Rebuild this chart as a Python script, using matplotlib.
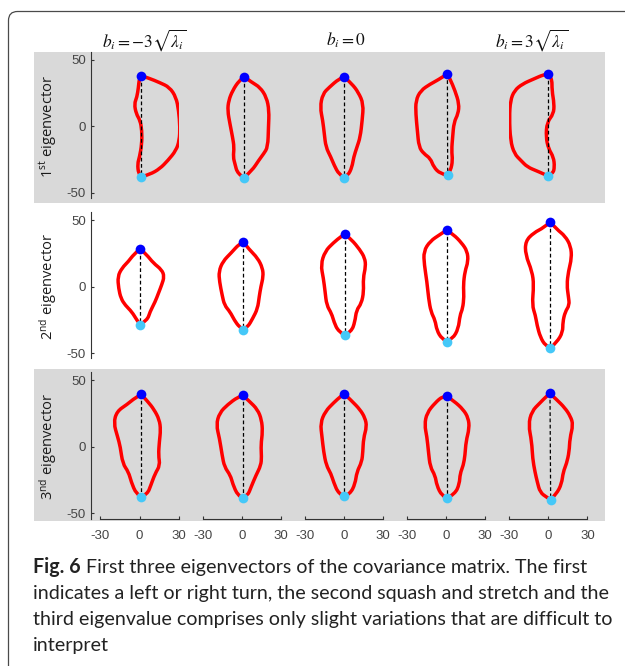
import matplotlib
matplotlib.use("Agg")
import matplotlib.pyplot as plt
from matplotlib.path import Path
from matplotlib.patches import PathPatch, Rectangle, FancyBboxPatch
from matplotlib.transforms import IdentityTransform

plt.rcParams['mathtext.fontset'] = 'stix'
plt.rcParams['axes.unicode_minus'] = False

W, H = 625, 666

# column headers (only columns 1, 3, 5 carry one)
col_titles = [r'$b_i = -3\sqrt{\lambda_i}$', r'$b_i = 0$', r'$b_i = 3\sqrt{\lambda_i}$']
title_x = [144, 346, 532]
row_labels = [r'1$^{\mathregular{st}}$ eigenvector',
              r'2$^{\mathregular{nd}}$ eigenvector',
              r'3$^{\mathregular{nd}}$ eigenvector']
y_ticks = [-50, 0, 50]
x_ticks = [-30, 0, 30]

# outlines: right side runs top landmark -> bottom landmark,
# left side holds the points from bottom back up to the top
row1_right = [
    [(1.2, 38.2), (6.8, 36.5), (15.5, 33), (23, 29.5), (28, 22), (30, 12), (31, -0.5),
     (30.5, -10.5), (28, -18), (21.8, -25.5), (15.5, -31.8), (8, -36), (1.2, -38)],
    [(1.8, 37.5), (8, 33), (14, 29.5), (19, 22), (21, 12), (20.5, -0.5), (20, -15.5),
     (16.8, -20.5), (13, -25.5), (8, -33), (1.8, -38.5)],
    [(0.2, 37.5), (6.2, 32), (11, 25.8), (15, 17), (14, 4.5), (12.5, -8), (10, -15.5),
     (7.5, -23), (6.2, -30.5), (3.2, -36.8), (0.2, -38.5)],
    [(1, 39.5), (3, 35.8), (6.8, 27), (10, 17), (9.2, 9.5), (6, 3.2), (5, -8), (4.2, -18),
     (5, -25.5), (3.5, -33), (1.2, -36.8)],
    [(-0.5, 39.5), (2.8, 37), (2.8, 27), (4.5, 17), (4, 9.5), (-1, 3.2), (-1.8, -8),
     (0.2, -16.8), (4, -23), (4.8, -30.5), (3.5, -35.5), (-0.5, -37)],
]
row1_left = [
    [(-0.8, -35.5), (-1.5, -28), (0, -23), (1.8, -13), (1.8, -3), (0.5, 4.5), (-2.5, 9.5),
     (-4, 17), (-2, 22), (-0.8, 29.5), (-0.2, 35.8)],
    [(-3.2, -35.5), (-5.2, -28), (-6.5, -23), (-5.8, -15.5), (-7, -8), (-9, 2), (-10.8, 12),
     (-10, 19.5), (-7, 27), (-2, 34.5)],
    [(-3.8, -36), (-7.5, -29), (-10, -23), (-13.8, -15.5), (-15, -5.5), (-16.2, 4.5),
     (-18.2, 14.5), (-16.2, 24.5), (-11.2, 29.5), (-3.8, 35.8)],
    [(-4.5, -35.5), (-9.5, -30.5), (-12, -24), (-17, -20.5), (-20.8, -15.5), (-22, -3),
     (-23.2, 9.5), (-23.2, 19.5), (-19.5, 27), (-12, 32), (-7, 34.5)],
    [(-8.5, -33.5), (-16, -30.5), (-21, -25.5), (-26, -20.5), (-29, -10.5), (-29.8, 7),
     (-29, 19.5), (-26, 27), (-19.8, 32), (-11, 35.8), (-3.5, 39)],
]

row2_right = [
    [(0.5, 28.5), (5.5, 24), (10.6, 17.7), (17, 12.7), (19, 7.6), (17, 1.3), (14.5, -5),
     (12, -11.4), (8, -19), (6, -25.3), (0.5, -28.5)],
    [(1.3, 33.5), (5.8, 27.8), (12.2, 21.5), (16, 13.9), (16.5, 7.6), (14.7, 0), (13.4, -7.6),
     (12.2, -16.5), (8.4, -24), (4.6, -30.4), (1.3, -32.5)],
    [(0.8, 39.5), (5.8, 35.4), (12.2, 27.8), (16, 21.5), (16.7, 15.2), (14.7, 6.3),
     (15.2, -3.8), (13.4, -12.7), (9.6, -17.7), (8.4, -26.6), (5.8, -33.7), (0.8, -36.7)],
    [(0.5, 42.5), (5.6, 39.2), (11.9, 32.9), (16.2, 26.6), (16.9, 19), (14.4, 11.4),
     (13.2, 1.3), (13.7, -7.6), (12.7, -16.5), (10.6, -21.5), (9.4, -31.6), (5.1, -39.2),
     (0.5, -41.3)],
    [(1.5, 48.5), (6.6, 43), (12.9, 38), (17.2, 30.4), (17.9, 21.5), (15.4, 11.4),
     (14.2, 1.3), (15.4, -7.6), (16.2, -13.9), (12.9, -19), (11.1, -26.6), (11.1, -34.2),
     (6.6, -41.8), (1.5, -46.3)],
]
row2_left = [
    [(-2, -25.3), (-5.8, -19), (-10.9, -14), (-14.2, -8.9), (-16, -1.3), (-16.7, 7.6),
     (-13.4, 14), (-8.4, 19), (-4.6, 24)],
    [(-1.8, -30.4), (-5.6, -25.3), (-8.9, -19), (-13.2, -14), (-15, -6.3), (-17, 3.8),
     (-17.5, 11.4), (-14.4, 19), (-8.1, 25.3), (-1.8, 32.2)],
    [(-4.3, -33.7), (-7.6, -26.6), (-9.4, -20.3), (-13.2, -14), (-14.4, -3.8), (-15.7, 6.3),
     (-17.7, 16.5), (-14.4, 26.6), (-8.1, 32.9), (-1.8, 38)],
    [(-3.3, -39.2), (-7.1, -32.9), (-8.4, -25.3), (-11.6, -19), (-13.4, -8.9), (-14.7, 3.8),
     (-16.7, 16.5), (-17.2, 26.6), (-12.2, 34.2), (-4.6, 39.2)],
    [(-2.3, -44.3), (-6.1, -38), (-8.6, -29.1), (-9.9, -21.5), (-12.4, -13.9), (-11.1, 1.3),
     (-12.4, 11.4), (-17.5, 24), (-17.5, 34.2), (-11.1, 40.5), (-3.5, 44.3)],
]

row3_right = [
    [(1.3, 39.3), (6.1, 34.3), (11.2, 27.9), (15.2, 20.3), (16.2, 12.7), (15.2, 3.8),
     (14.5, -6.3), (15.7, -14), (11.9, -20.3), (8.6, -29.2), (6.1, -35.5), (1.3, -38)],
    [(0.8, 38.6), (5.8, 34.3), (12.2, 27.9), (15.2, 20.3), (16, 11.4), (14.7, 1.3),
     (15.2, -7.6), (14.7, -14), (10.9, -21.6), (7.1, -30.5), (4.6, -36.8), (0.8, -38.6)],
    [(0.3, 39.8), (6.1, 34.3), (12.4, 27.9), (16.2, 21.6), (17.5, 15.2), (15, 6.3),
     (14.5, -3.8), (13.7, -11.4), (9.9, -19), (8.6, -27.9), (4.8, -35.5), (0.3, -37.3)],
    [(0.5, 38), (6.1, 34.3), (13.2, 27.9), (17, 21.6), (17.8, 14), (15.2, 3.8),
     (14.5, -6.3), (13.2, -14), (10.7, -20.3), (10.2, -27.9), (6.9, -35.5), (0.5, -38.8)],
    [(1.3, 40), (6.3, 35.5), (12.7, 29.2), (17, 22.8), (19, 16.5), (16.5, 6.3), (16, -3.8),
     (14, -12.7), (11.4, -19), (10.2, -27.9), (6.3, -35.5), (1.8, -39.8)],
]
row3_left = [
    [(-2.5, -35.5), (-6.3, -26.6), (-8.4, -19), (-12.9, -12.7), (-14.7, 0), (-16.8, 7.6),
     (-19.8, 17.8), (-17.3, 26.6), (-9.6, 31.7), (-3.3, 36.8)],
    [(-3, -36.8), (-6.9, -27.9), (-8.6, -21.6), (-13.2, -15.2), (-15, -6.3), (-17, 6.3),
     (-19.5, 16.5), (-17, 25.4), (-10.7, 31.7), (-3, 37.3)],
    [(-4.1, -35.5), (-7.9, -26.6), (-9.9, -20.3), (-13.5, -14), (-15.5, -3.8), (-16.8, 7.6),
     (-18, 17.8), (-14.2, 26.6), (-7.9, 33), (-2.3, 38)],
    [(-3.3, -36.8), (-7.1, -29.2), (-8.4, -21.6), (-12.2, -15.2), (-13.5, -3.8), (-14.7, 7.6),
     (-16.5, 16.5), (-14.7, 25.4), (-8.4, 33), (-2.5, 38)],
    [(-1.3, -38), (-6.3, -34.3), (-8.4, -26.6), (-10.2, -19), (-12, -8.9), (-12.7, 3.8),
     (-15.2, 16.5), (-12.7, 26.6), (-6.3, 33), (-1.3, 38)],
]

rows = [(row1_right, row1_left), (row2_right, row2_left), (row3_right, row3_left)]

caption_bold = 'Fig. 6'
caption_lines = [' First three eigenvectors of the covariance matrix. The first',
                 'indicates a left or right turn, the second squash and stretch and the',
                 'third eigenvalue comprises only slight variations that are difficult to',
                 'interpret']

# layout in pixels
col_zero = [139.5 + 102.2 * i for i in range(5)]
row_zero = [126.5, 286.6, 446.7]
sx, sy = 1.306, 1.33
XLIM, YLIM = (-30, 30), (-54, 56)

RED = '#ff0000'
TOP_C = '#0000ff'
BOT_C = '#45c8f8'
GRAY = '#d9d9d9'
TICK_FONT = ['Liberation Sans Narrow', 'Liberation Sans']


def smooth_chain(pts):
    # quadratic bezier through midpoints, pinned at both ends
    verts, codes = [pts[0]], [Path.MOVETO]
    ctrl = pts[1:-1]
    for i, c in enumerate(ctrl):
        if i < len(ctrl) - 1:
            n = ctrl[i + 1]
            end = ((c[0] + n[0]) / 2, (c[1] + n[1]) / 2)
        else:
            end = pts[-1]
        verts += [c, end]
        codes += [Path.CURVE3, Path.CURVE3]
    return verts, codes


fig = plt.figure(figsize=(W / 100, H / 100), dpi=100)

# outer frame with rounded corner
fig.patches.append(FancyBboxPatch((8.5, -40), 700, H - 11.5 + 40,
                                  boxstyle='round,pad=0,rounding_size=9',
                                  transform=IdentityTransform(), fill=False,
                                  edgecolor='#4a4a4a', linewidth=0.9, zorder=-2))
# gray bands behind rows 1 and 3
for y0, y1 in [(51.5, 203), (369, 520.5)]:
    fig.patches.append(Rectangle((34 / W, 1 - y1 / H), (605 - 34) / W, (y1 - y0) / H,
                                 transform=fig.transFigure, facecolor=GRAY,
                                 edgecolor='none', zorder=-1))

for r, (rights, lefts) in enumerate(rows):
    for c in range(5):
        left = (col_zero[c] - 30 * sx) / W
        bottom = 1 - (row_zero[r] + 54 * sy) / H
        ax = fig.add_axes([left, bottom, 60 * sx / W, 110 * sy / H])
        ax.set_xlim(*XLIM)
        ax.set_ylim(*YLIM)
        ax.patch.set_visible(False)
        for s in ax.spines.values():
            s.set_visible(False)
        ax.set_xticks([])
        ax.set_yticks([])

        right = rights[c]
        top, bot = right[0], right[-1]
        v1, c1 = smooth_chain(right)
        v2, c2 = smooth_chain([bot] + lefts[c] + [top])
        path = Path(v1 + v2[1:], c1 + c2[1:])
        ax.add_patch(PathPatch(path, fill=False, edgecolor=RED, linewidth=2.5,
                               capstyle='round', joinstyle='round', zorder=2))
        ax.plot([top[0], bot[0]], [top[1], bot[1]], color='black', linewidth=0.9,
                dashes=(3, 2), zorder=3)
        ax.plot([top[0]], [top[1]], 'o', color=TOP_C, markersize=7, mec='none', zorder=4)
        ax.plot([bot[0]], [bot[1]], 'o', color=BOT_C, markersize=7, mec='none', zorder=4)

        if c == 0:
            ax.spines['left'].set_visible(True)
            ax.spines['left'].set_position(('outward', 6.5))
            ax.spines['left'].set_color('#333333')
            ax.spines['left'].set_linewidth(0.8)
            ax.set_yticks(y_ticks)
            ax.set_yticklabels([str(t) for t in y_ticks], family=TICK_FONT)
            ax.tick_params(axis='y', length=2, width=0.8, direction='in', pad=4,
                           labelsize=9.5, labelcolor='#454545', color='#333333')
        if r == 2:
            ax.spines['bottom'].set_visible(True)
            ax.spines['bottom'].set_color('#333333')
            ax.spines['bottom'].set_linewidth(0.8)
            ax.set_xticks(x_ticks)
            ax.set_xticklabels([str(t) for t in x_ticks], family=TICK_FONT)
            ax.tick_params(axis='x', length=2, width=0.8, direction='in', pad=8,
                           labelsize=9.5, labelcolor='#454545', color='#333333')

for t, x in zip(col_titles, title_x):
    fig.text(x / W, 1 - 40 / H, t, ha='center', va='center', fontsize=12.5, color='#111111')

for lab, yz in zip(row_labels, row_zero):
    fig.text(48 / W, 1 - yz / H, lab, rotation=90, ha='center', va='center',
             fontsize=10.5, family='Open Sans', color='#1a1a1a')

# caption: bold figure number followed by regular text
cap_font = 'Lato'
cap_size = 14.1
cap_x = 33 / W
line_y = [567, 593.5, 620, 646]
fig.canvas.draw()
renderer = fig.canvas.get_renderer()
tb = fig.text(cap_x, 1 - line_y[0] / H, caption_bold, ha='left', va='center',
              fontsize=cap_size, family=cap_font, fontweight='bold', color='#222222')
ext = tb.get_window_extent(renderer)
fig.text(ext.x1 / W, 1 - line_y[0] / H, caption_lines[0], ha='left', va='center',
         fontsize=cap_size, family=cap_font, color='#222222')
for txt, y in zip(caption_lines[1:], line_y[1:]):
    fig.text(cap_x, 1 - y / H, txt, ha='left', va='center',
             fontsize=cap_size, family=cap_font, color='#222222')

fig.savefig('out.png', dpi=100)
